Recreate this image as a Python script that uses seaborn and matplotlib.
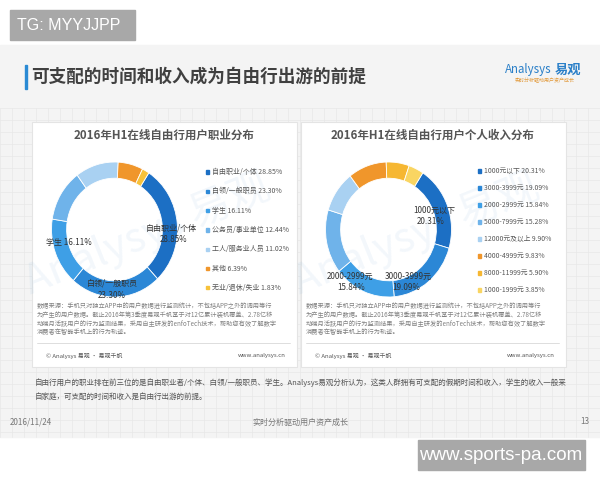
import seaborn as sns
import matplotlib.pyplot as plt
from matplotlib.patches import Rectangle

# data
job_labels = ["自由职业/个体", "白领/一般职员", "学生", "公务员/事业单位", "工人/服务业人员", "其他", "无业/退休/失业"]
job_share = [28.85, 23.30, 16.11, 12.44, 11.02, 6.39, 1.83]

income_labels = ["1000元以下", "3000-3999元", "2000-2999元", "5000-7999元", "12000元及以上",
                 "4000-4999元", "8000-11999元", "1000-1999元"]
income_share = [20.31, 19.09, 15.84, 15.28, 9.90, 9.83, 5.90, 3.85]

job_colors = ["#1c6fc4", "#2b87d6", "#3e9fe6", "#6fb3ea", "#a9d1f2", "#f0962b", "#f7c23a"]
income_colors = ["#1c6fc4", "#2b87d6", "#3e9fe6", "#6fb3ea", "#a9d1f2", "#f0962b", "#f6b732", "#f9d562"]

source_lines = [
    "数据来源：手机只对独立APP中的用户数据进行监测统计，不包括APP之外的调用等行",
    "为产生的用户数据。截止2016年第3季度易观千帆基于对12亿累计装机覆盖、2.78亿移",
    "动端月活跃用户的行为监测结果，采用自主研发的enfoTech技术，帮助您有效了解数字",
    "消费者在智能手机上的行为轨迹。",
]
summary_lines = [
    "自由行用户的职业排在前三位的是自由职业者/个体、白领/一般职员、学生。Analysys易观分析认为，这类人群拥有可支配的假期时间和收入，学生的收入一般来",
    "自家庭，可支配的时间和收入是自由行出游的前提。",
]

sns.set_theme(style="white")
plt.rcParams['font.family'] = ['Noto Sans CJK SC', 'DejaVu Sans']

fig = plt.figure(figsize=(6, 4.8), dpi=100)


def pixel_axes():
    a = fig.add_axes([0, 0, 1, 1])
    a.set_xlim(0, 600)
    a.set_ylim(480, 0)
    a.axis("off")
    a.patch.set_alpha(0)
    return a


bg = pixel_axes()

# slide background with faint grid
bg.add_patch(Rectangle((0, 45), 600, 392, color="#f4f4f4", zorder=0))
for gx in range(0, 601, 12):
    bg.plot([gx, gx], [108, 437], color="#e8e8e8", lw=0.5, zorder=0.5)
for gy in range(108, 438, 12):
    bg.plot([0, 600], [gy, gy], color="#e8e8e8", lw=0.5, zorder=0.5)

# header
bg.add_patch(Rectangle((25, 65), 1.8, 24, color="#2a8ad4", zorder=2))
bg.text(31, 77, "可支配的时间和收入成为自由行出游的前提", fontsize=12.7, fontweight="bold",
        color="#404040", va="center", ha="left")
bg.text(552, 70, "Analysys", fontsize=8.3, style="italic", color="#2a7fc8", ha="right", va="center")
bg.text(555, 70, "易观", fontsize=9.5, fontweight="bold", color="#2a7fc8", ha="left", va="center")
bg.text(575, 81, "实时分析驱动用户资产成长", fontsize=3.6, color="#e29a3c", ha="right", va="center")

# panels
panels = [(32, "2016年H1在线自由行用户职业分布"), (301, "2016年H1在线自由行用户个人收入分布")]
for px, title in panels:
    bg.add_patch(Rectangle((px, 122), 265, 245, facecolor="white", edgecolor="#e4e4e4", lw=0.8, zorder=1))
    bg.text(px + 132, 135, title, fontsize=8.3, fontweight="bold", color="#555555",
            ha="center", va="center", zorder=3)
    bg.text(px + 115, 235, "Analysys 易观", fontsize=30, color="#2a7fc8", alpha=0.06,
            rotation=22, ha="center", va="center", zorder=2)
    for i, line in enumerate(source_lines):
        bg.text(px + 5, 306.5 + i * 8.5, line, fontsize=4.5, color="#808080", ha="left", va="center", zorder=3)
    bg.plot([px + 5, px + 258], [343, 343], color="#d8d8d8", lw=0.6, zorder=3)
    bg.text(px + 14, 356, "© Analysys 易观 · 易观千帆", fontsize=4.3, color="#555555", va="center", zorder=3)
    bg.text(px + 254, 356, "www.analysys.cn", fontsize=4.3, color="#555555", ha="right", va="center", zorder=3)


def donut(cx, cy, shares, colors, rx=63, ry=67.5):
    ax = fig.add_axes([(cx - rx) / 600, 1 - (cy + ry) / 480, 2 * rx / 600, 2 * ry / 480])
    ax.pie(shares, colors=colors, startangle=57, counterclock=False,
           wedgeprops=dict(width=0.24, edgecolor="white", linewidth=0.6))
    ax.set_xlim(-1, 1)
    ax.set_ylim(-1, 1)
    ax.set_aspect("auto")
    ax.axis("off")
    return ax


donut(114.5, 229.5, job_share, job_colors)
donut(388.5, 229.5, income_share, income_colors)

# overlay for labels, legends and watermark boxes
top = pixel_axes()

lab = dict(fontsize=5.8, color="#333333", ha="center", va="center")
top.text(171, 228, job_labels[0], **lab)
top.text(174, 240, f"{job_share[0]:.2f}%", **lab)
top.text(112, 283, job_labels[1], **lab)
top.text(112, 295, f"{job_share[1]:.2f}%", **lab)
top.text(69, 243, f"{job_labels[2]} {job_share[2]:.2f}%", **lab)
top.text(434, 210, income_labels[0], **lab)
top.text(431, 222, f"{income_share[0]:.2f}%", **lab)
top.text(408, 276, income_labels[1], **lab)
top.text(406, 288, f"{income_share[1]:.2f}%", **lab)
top.text(350, 276, income_labels[2], **lab)
top.text(351, 288, f"{income_share[2]:.2f}%", **lab)

for i, (name, val) in enumerate(zip(job_labels, job_share)):
    y = 172 + i * 19.3
    top.add_patch(Rectangle((206, y - 1.6), 3.2, 3.2, color=job_colors[i]))
    top.text(212, y, f"{name} {val:.2f}%", fontsize=5.0, color="#555555", va="center")
for i, (name, val) in enumerate(zip(income_labels, income_share)):
    y = 171 + i * 17.0
    top.add_patch(Rectangle((478, y - 1.6), 3.2, 3.2, color=income_colors[i]))
    top.text(484, y, f"{name} {val:.2f}%", fontsize=4.9, color="#555555", va="center")

# summary and footer
for i, line in enumerate(summary_lines):
    top.text(35, 383 + i * 14, line, fontsize=5.45, color="#555555", va="center")
top.text(10, 422, "2016/11/24", fontsize=5.8, color="#777777", va="center")
top.text(300, 422, "实时分析驱动用户资产成长", fontsize=5.8, color="#777777", ha="center", va="center")
top.text(589, 422, "13", fontsize=5.8, color="#777777", ha="right", va="center")

top.add_patch(Rectangle((10, 10), 125, 30, color="#a8a8a8"))
top.text(17, 25, "TG: MYYJJPP", fontsize=11.5, color="white", va="center", ha="left",
         family="Liberation Sans")
top.add_patch(Rectangle((418, 440), 167, 30, color="#a8a8a8"))
top.text(501, 455, "www.sports-pa.com", fontsize=13.5, color="white", va="center", ha="center",
         family="Liberation Sans")

fig.savefig("out.png", dpi=100, facecolor="white")
